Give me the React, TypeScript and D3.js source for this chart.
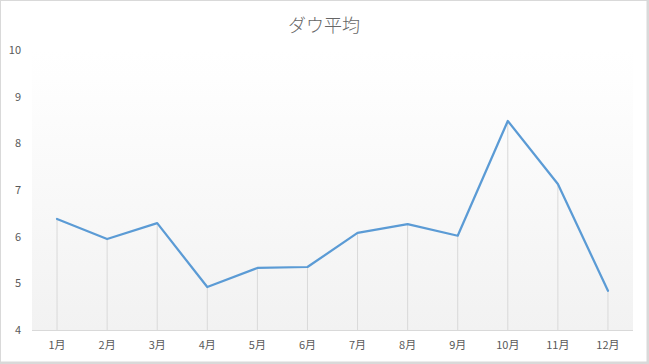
import React from "react";
import * as d3 from "d3";

const categories = ["1月", "2月", "3月", "4月", "5月", "6月", "7月", "8月", "9月", "10月", "11月", "12月"];
const values = [6.38, 5.95, 6.29, 4.92, 5.33, 5.35, 6.08, 6.27, 6.02, 8.48, 7.13, 4.84];
const yTicks = [4, 5, 6, 7, 8, 9, 10];
const title = "ダウ平均";

export default function App() {
  const W = 649, H = 364;
  const left = 32, right = 633, top = 50, bottom = 330;
  const x = d3.scalePoint<string>().domain(categories).range([left, right]).padding(0.5);
  const y = d3.scaleLinear().domain([4, 10]).range([bottom, top]);
  const line = d3.line<number>()
    .x((_, i) => x(categories[i]) as number)
    .y((d) => y(d));
  const font = "'Noto Sans CJK JP', 'Noto Sans', sans-serif";
  return (
    <svg width={W} height={H} style={{ position: "absolute", left: 0, top: 0 }}>
      <defs>
        <linearGradient id="pa" x1="0" y1="0" x2="0" y2="1">
          <stop offset="0" stopColor="#ffffff" />
          <stop offset="0.1" stopColor="#fefefe" />
          <stop offset="1" stopColor="#f2f2f2" />
        </linearGradient>
      </defs>
      <rect x={0} y={0} width={W} height={H} fill="#ffffff" />
      <rect x={0.5} y={0.5} width={W - 2.5} height={H - 2.5} fill="none" stroke="#d9d9d9" />
      <rect x={W - 2} y={0} width={2} height={H} fill="#d9d9d9" />
      <rect x={0} y={H - 2} width={W} height={2} fill="#d9d9d9" />
      <rect x={left} y={top} width={right - left} height={bottom - top} fill="url(#pa)" />
      <text x={324} y={32} textAnchor="middle" fontFamily={font} fontSize={18} fontWeight={300} fill="#666666">{title}</text>
      {yTicks.map((t) => (
        <text key={t} x={21} y={y(t)} dy="0.35em" textAnchor="end" fontFamily={font} fontSize={11} fill="#595959">{t}</text>
      ))}
      {categories.map((c, i) => (
        <line key={"d" + c} x1={x(c)} x2={x(c)} y1={y(values[i])} y2={bottom} stroke="#d9d9d9" strokeWidth={1} />
      ))}
      <line x1={left} x2={right} y1={bottom + 0.5} y2={bottom + 0.5} stroke="#d9d9d9" strokeWidth={1} />
      {categories.map((c) => (
        <text key={"x" + c} x={x(c)} y={345} dy="0.35em" textAnchor="middle" fontFamily={font} fontSize={11} fill="#595959">{c}</text>
      ))}
      <path d={line(values) || ""} fill="none" stroke="#5b9bd5" strokeWidth={2.25} strokeLinejoin="round" strokeLinecap="round" />
    </svg>
  );
}
